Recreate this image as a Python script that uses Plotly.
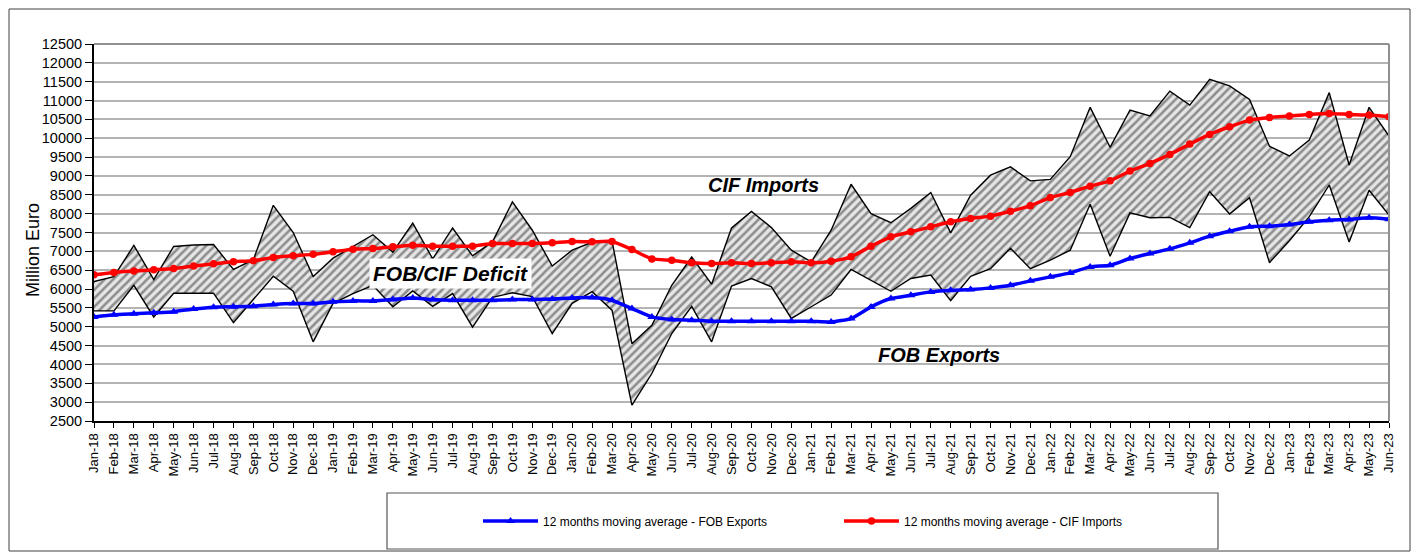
import plotly.graph_objects as go

months = ["Jan-18","Feb-18","Mar-18","Apr-18","May-18","Jun-18","Jul-18","Aug-18","Sep-18","Oct-18","Nov-18","Dec-18",
          "Jan-19","Feb-19","Mar-19","Apr-19","May-19","Jun-19","Jul-19","Aug-19","Sep-19","Oct-19","Nov-19","Dec-19",
          "Jan-20","Feb-20","Mar-20","Apr-20","May-20","Jun-20","Jul-20","Aug-20","Sep-20","Oct-20","Nov-20","Dec-20",
          "Jan-21","Feb-21","Mar-21","Apr-21","May-21","Jun-21","Jul-21","Aug-21","Sep-21","Oct-21","Nov-21","Dec-21",
          "Jan-22","Feb-22","Mar-22","Apr-22","May-22","Jun-22","Jul-22","Aug-22","Sep-22","Oct-22","Nov-22","Dec-22",
          "Jan-23","Feb-23","Mar-23","Apr-23","May-23","Jun-23"]

cif_imports = [6200, 6330, 7160, 6250, 7130, 7170, 7180, 6520, 6780, 8220, 7500, 6330,
               6820, 7130, 7440, 6980, 7750, 6800, 7620, 6880, 7250, 8310, 7560, 6610,
               7030, 7240, 7280, 4550, 5040, 6100, 6850, 6130, 7620, 8060, 7630, 7030,
               6720, 7560, 8780, 8000, 7760, 8140, 8560, 7490, 8490, 9020, 9240, 8870,
               8910, 9510, 10820, 9760, 10750, 10590, 11250, 10880, 11560, 11390, 11030, 9790,
               9530, 9950, 11210, 9290, 10820, 10060]

fob_exports = [5420, 5420, 6100, 5260, 5890, 5890, 5890, 5110, 5740, 6340, 5940, 4600,
               5620, 5880, 6100, 5530, 5950, 5540, 5880, 4990, 5780, 5900, 5800, 4820,
               5620, 5930, 5440, 2920, 3760, 4820, 5540, 4600, 6080, 6280, 6060, 5220,
               5530, 5840, 6520, 6240, 5940, 6280, 6370, 5690, 6340, 6540, 7080, 6540,
               6770, 7030, 8250, 6870, 8020, 7890, 7900, 7630, 8580, 7990, 8420, 6700,
               7280, 7920, 8760, 7250, 8620, 7960]

ma_exports = [5260, 5320, 5345, 5370, 5400, 5470, 5520, 5530, 5545, 5590, 5615, 5615,
              5660, 5686, 5686, 5721, 5765, 5721, 5704, 5704, 5704, 5721, 5721, 5739,
              5765, 5774, 5704, 5482, 5261, 5190, 5173, 5146, 5146, 5146, 5146, 5146,
              5146, 5128, 5217, 5527, 5748, 5836, 5925, 5969, 5987, 6031, 6102, 6217,
              6323, 6429, 6588, 6633, 6810, 6942, 7066, 7226, 7403, 7535, 7650, 7668,
              7712, 7783, 7827, 7845, 7889, 7854]

ma_imports = [6380, 6442, 6477, 6512, 6548, 6610, 6670, 6725, 6750, 6840, 6885, 6920,
              6987, 7058, 7075, 7120, 7164, 7137, 7137, 7137, 7208, 7208, 7208, 7226,
              7261, 7252, 7261, 7049, 6800, 6765, 6695, 6677, 6695, 6677, 6695, 6721,
              6695, 6739, 6854, 7137, 7385, 7518, 7650, 7783, 7872, 7934, 8066, 8208,
              8429, 8562, 8730, 8872, 9128, 9332, 9571, 9845, 10102, 10305, 10482, 10553,
              10588, 10632, 10658, 10632, 10615, 10571]

y_ticks = list(range(2500, 12501, 500))

FONT = "Liberation Sans, Arial, sans-serif"
NARROW = "Liberation Sans Narrow, Arial Narrow, Liberation Sans, Arial, sans-serif"

fig = go.Figure()

fig.add_trace(go.Scatter(x=months, y=fob_exports, mode="lines",
                         line=dict(color="black", width=1.4), showlegend=False, hoverinfo="skip"))
fig.add_trace(go.Scatter(x=months, y=cif_imports, mode="lines", fill="tonexty",
                         fillcolor="#e2e2e2",
                         fillpattern=dict(shape="/", fgcolor="#333333", bgcolor="#e6e6e6",
                                          size=6, solidity=0.42),
                         line=dict(color="black", width=1.4), showlegend=False, hoverinfo="skip"))

fig.add_trace(go.Scatter(x=months, y=ma_exports, mode="lines+markers",
                         name="12 months moving average - FOB Exports",
                         line=dict(color="#0000ff", width=3.5, shape="spline", smoothing=0.5),
                         marker=dict(symbol="triangle-up", size=8, color="#0000ff")))
fig.add_trace(go.Scatter(x=months, y=ma_imports, mode="lines+markers",
                         name="12 months moving average - CIF Imports",
                         line=dict(color="#ff0000", width=3.5, shape="spline", smoothing=0.5),
                         marker=dict(symbol="circle", size=7.5, color="#ff0000")))

W, H = 1416, 552
L, R, T, B = 94, 1389, 44, 421
pw, ph = R - L, B - T

def px(xp):
    return (xp - L) / pw

def py(yp):
    return (B - yp) / ph

fig.update_layout(
    width=W, height=H,
    margin=dict(l=L, r=W - R, t=T, b=H - B),
    paper_bgcolor="white", plot_bgcolor="white",
    font=dict(family=FONT, color="black"),
    showlegend=True,
    legend=dict(orientation="h", traceorder="normal", x=px(478), y=py(521),
                xanchor="left", yanchor="middle",
                font=dict(family=NARROW, size=12, color="black"),
                entrywidth=291, entrywidthmode="pixels",
                bgcolor="rgba(0,0,0,0)", borderwidth=0, itemwidth=55),
    xaxis=dict(type="category", range=[0, len(months) - 1],
               tickangle=-90, tickfont=dict(family=FONT, size=13, color="black"),
               ticks="outside", ticklen=5, tickcolor="black", tickwidth=1,
               showline=True, linecolor="black", linewidth=2,
               showgrid=False, zeroline=False),
    yaxis=dict(range=[2500, 12500], tickvals=y_ticks, ticktext=[str(v) for v in y_ticks],
               tickfont=dict(family=FONT, size=14.5, color="black"),
               ticks="outside", ticklen=7, tickcolor="black",
               showline=True, linecolor="black", linewidth=2,
               showgrid=True, gridcolor="#b4b4b4", gridwidth=1.5, zeroline=False),
    shapes=[
        dict(type="line", xref="paper", yref="paper", x0=0, x1=1, y0=1, y1=1,
             line=dict(color="#909090", width=2), layer="above"),
        dict(type="line", xref="paper", yref="paper", x0=1, x1=1, y0=0, y1=1,
             line=dict(color="#909090", width=2), layer="above"),
        dict(type="rect", xref="paper", yref="paper", x0=px(387), x1=px(1218),
             y0=py(549), y1=py(493), line=dict(color="#555555", width=1.2)),
        dict(type="rect", xref="paper", yref="paper", x0=px(9), x1=px(1410),
             y0=py(551), y1=py(9), line=dict(color="#404040", width=1)),
    ],
    annotations=[
        dict(text="Million Euro", x=px(33), y=py(250), xref="paper", yref="paper",
             xanchor="center", yanchor="middle",
             textangle=-90, showarrow=False, font=dict(family=FONT, size=18, color="black")),
        dict(text="<b><i>CIF Imports</i></b>", x=33.6, y=8757, xref="x", yref="y",
             showarrow=False, font=dict(family=FONT, size=20, color="black")),
        dict(text="<b><i>FOB/CIF Deficit</i></b>", x=17.9, y=6421, xref="x", yref="y",
             showarrow=False, font=dict(family=FONT, size=21, color="black"),
             bgcolor="white", borderpad=3),
        dict(text="<b><i>FOB Exports</i></b>", x=42.4, y=4244, xref="x", yref="y",
             showarrow=False, font=dict(family=FONT, size=20, color="black")),
    ],
)

fig.write_html("out.html", config={"displayModeBar": False},
               post_script="document.body.style.margin='0';document.body.style.overflow='hidden';")
